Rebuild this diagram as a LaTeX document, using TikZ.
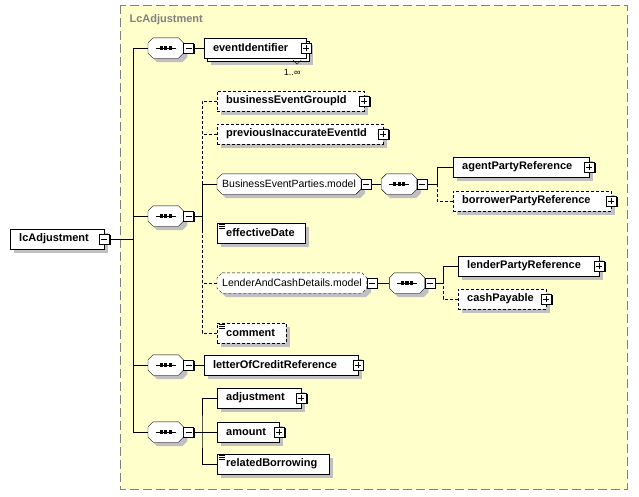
\documentclass[tikz,border=0pt]{standalone}
\usepackage{fontspec}
\setmainfont{Liberation Sans}
\usetikzlibrary{positioning,shadows}

\definecolor{boxyellow}{RGB}{255,255,204}
\definecolor{shadowgray}{RGB}{192,192,192}
\definecolor{framegray}{RGB}{128,128,128}

\pgfdeclarelayer{bg}
\pgfsetlayers{bg,main}

% octagon outline round a node, #2 = extra shift
\newcommand\octpath[2]{([#2,xshift=5pt]#1.north west) -- ([#2,xshift=-5pt]#1.north east)
  -- ([#2,yshift=-5pt]#1.north east) -- ([#2,yshift=5pt]#1.south east)
  -- ([#2,xshift=-5pt]#1.south east) -- ([#2,xshift=5pt]#1.south west)
  -- ([#2,yshift=5pt]#1.south west) -- ([#2,yshift=-5pt]#1.north west) -- cycle}
\newcommand\chamf[2][]{%
  \begin{pgfonlayer}{bg}
    \fill[shadowgray] \octpath{#2}{shift={(4pt,-4pt)}};
    \draw[fill=white,#1] \octpath{#2}{shift={(0pt,0pt)}};
  \end{pgfonlayer}}
\newcommand\seqsym[1]{%
  \draw ([xshift=-10pt]#1.center) -- ([xshift=10pt]#1.center);
  \foreach \d in {-4.5,0,4.5}
    {\fill ([xshift=\d pt]#1.center) +(-1.6pt,-1.6pt) rectangle +(1.6pt,1.6pt);}}

\tikzset{
  shad/.style={drop shadow={shadow xshift=4pt, shadow yshift=-4pt, fill=shadowgray, opacity=1}},
  elem/.style={draw, fill=white, shad, anchor=west, text width=#1, align=left,
    minimum height=20pt, inner xsep=0pt, inner ysep=0pt,
    font=\fontsize{11}{13}\selectfont\bfseries, execute at begin node=\hspace*{9pt}},
  opt/.style={dash pattern=on 3pt off 2pt},
  txt/.style={path picture={\draw[solid, line width=0.7pt]
    ([xshift=2pt,yshift=-1.5pt]path picture bounding box.north west) -- ++(6pt,0pt)
    ([xshift=2pt,yshift=-3.5pt]path picture bounding box.north west) -- ++(6pt,0pt)
    ([xshift=2pt,yshift=-5.5pt]path picture bounding box.north west) -- ++(6pt,0pt);}},
  grp/.style={anchor=west, minimum height=20pt, inner xsep=5pt, inner ysep=0pt,
    font=\fontsize{10.5}{12}\selectfont},
  seq/.style={anchor=west, minimum width=35pt, minimum height=20pt, inner sep=0pt},
  signbox/.style={draw, fill=white, minimum size=10pt, inner sep=0pt,
    drop shadow={shadow xshift=1.2pt, shadow yshift=-1.2pt, fill=black, opacity=1}},
  minusbox/.style={signbox, path picture={\draw ([xshift=2pt]path picture bounding box.west) -- ([xshift=-2pt]path picture bounding box.east);}},
  plusbox/.style={signbox, path picture={\draw ([xshift=2pt]path picture bounding box.west) -- ([xshift=-2pt]path picture bounding box.east)
    ([yshift=-2pt]path picture bounding box.north) -- ([yshift=2pt]path picture bounding box.south);}},
}

\begin{document}
\begin{tikzpicture}[x=1pt, y=-1pt, line width=1pt]
   \useasboundingbox (0,0) rectangle (639,496);
   \begin{pgfonlayer}{bg}
     \draw[framegray, fill=boxyellow, dash pattern=on 9pt off 4pt] (120,5) rectangle (627,489);
   \end{pgfonlayer}
   \node[anchor=base west, text=framegray, font=\fontsize{11}{13}\selectfont\bfseries] (title) at (126,22) {LcAdjustment};

   % root
   \node[elem=94pt] (root) at (10,239) {lcAdjustment};
   \node[minusbox] (rootm) at (root.east) {};

   % sequences
   \node[seq] (seqA) at (148,48) {};
   \node[seq] (seqB) at (148,216) {};
   \node[seq] (seqC) at (148,365) {};
   \node[seq] (seqD) at (148,432) {};
   \foreach \s in {seqA,seqB,seqC,seqD}
     \node[minusbox, right=0pt of \s] (\s m) {};

   % elements
   \node[elem=102pt, right=10pt of seqAm, drop shadow={shadow xshift=7pt, shadow yshift=-7pt, fill=shadowgray, opacity=1},
     copy shadow={shadow xshift=3pt, shadow yshift=-3pt}] (evid) {eventIdentifier};
   \node[elem=147pt, opt] (beg) at (217,101) {businessEventGroupId};
   \node[elem=166pt, opt] (pie) at (217,134) {previousInaccurateEventId};
   \node[grp] (bep) at (217,184) {BusinessEventParties.model};
   \node[elem=88pt, txt] (eff) at (217,233) {effectiveDate};
   \node[grp] (lac) at (217,283) {LenderAndCashDetails.model};
   \node[elem=69pt, opt, txt] (cmt) at (217,333) {comment};
   \node[elem=154pt, right=10pt of seqCm] (loc) {letterOfCreditReference};
   \node[elem=84pt] (adj) at (217,398) {adjustment};
   \node[elem=62pt] (amt) at (217,432) {amount};
   \node[elem=112pt, txt] (rel) at (217,464) {relatedBorrowing};

   % model groups
   \node[minusbox, right=0pt of bep] (bepm) {};
   \node[seq, right=10pt of bepm] (seqP) {};
   \node[minusbox, right=0pt of seqP] (seqPm) {};
   \node[elem=136pt] (agt) at (453,167) {agentPartyReference};
   \node[elem=158pt, opt] (bor) at (453,201) {borrowerPartyReference};

   \node[minusbox, right=0pt of lac] (lacm) {};
   \node[seq, right=12pt of lacm] (seqL) {};
   \node[minusbox, right=0pt of seqL] (seqLm) {};
   \node[elem=141pt] (lpr) at (458,266) {lenderPartyReference};
   \node[elem=88pt, opt] (csh) at (458,299) {cashPayable};

   \foreach \n in {evid,beg,pie,loc,adj,amt,agt,bor,lpr,csh}
     \node[plusbox] (\n p) at (\n.east) {};

   % octagons
   \foreach \o in {seqA,seqB,seqC,seqD,seqP,seqL,bep}
     {\chamf{\o}}
   \chamf[opt]{lac}
   \foreach \o in {seqA,seqB,seqC,seqD,seqP,seqL}
     {\seqsym{\o}}

   % occurrence
   \draw ([xshift=-13pt,yshift=-2pt]evid.south east) -- ++(4pt,-4pt) -- ++(4pt,4pt);
   \node[font=\fontsize{9}{10}\selectfont] (occ) at ([xshift=-14pt,yshift=-14pt]evid.south east) {1..∞};

   % connectors
   \coordinate (spine) at (133,239);
   \coordinate (brB) at (202,216);
   \coordinate (brD) at (202,432);
   \coordinate (brP) at (437,184);
   \coordinate (brL) at (443,283);
   \draw (rootm.east) -- (spine);
   \draw (spine |- seqA.west) -- (spine |- seqD.west);
   \foreach \s in {seqA,seqB,seqC,seqD}
     \draw (\s.west) -- (\s.west -| spine);
   \draw (seqAm) -- (evid);
   \draw (seqCm) -- (loc);

   \draw (seqBm.east) -- (brB);
   \draw[opt] (beg.west) -| (brB |- bep.west);
   \draw[opt] (pie.west) -- (pie.west -| brB);
   \draw (bep.west) -| (brB |- eff.west);
   \draw[opt] (cmt.west) -| (brB |- eff.west);
   \draw[opt] (lac.west) -- (lac.west -| brB);

   \draw (seqDm.east) -- (brD);
   \draw (adj.west) -| (brD) |- (rel.west);
   \draw (amt.west) -- (brD);

   \draw (bepm) -- (seqP);
   \draw (seqPm.east) -- (brP);
   \draw (agt.west) -| (brP);
   \draw[opt] (bor.west) -| (brP);

   \draw (lacm) -- (seqL);
   \draw (seqLm.east) -- (brL);
   \draw (lpr.west) -| (brL);
   \draw[opt] (csh.west) -| (brL);
\end{tikzpicture}
\end{document}
